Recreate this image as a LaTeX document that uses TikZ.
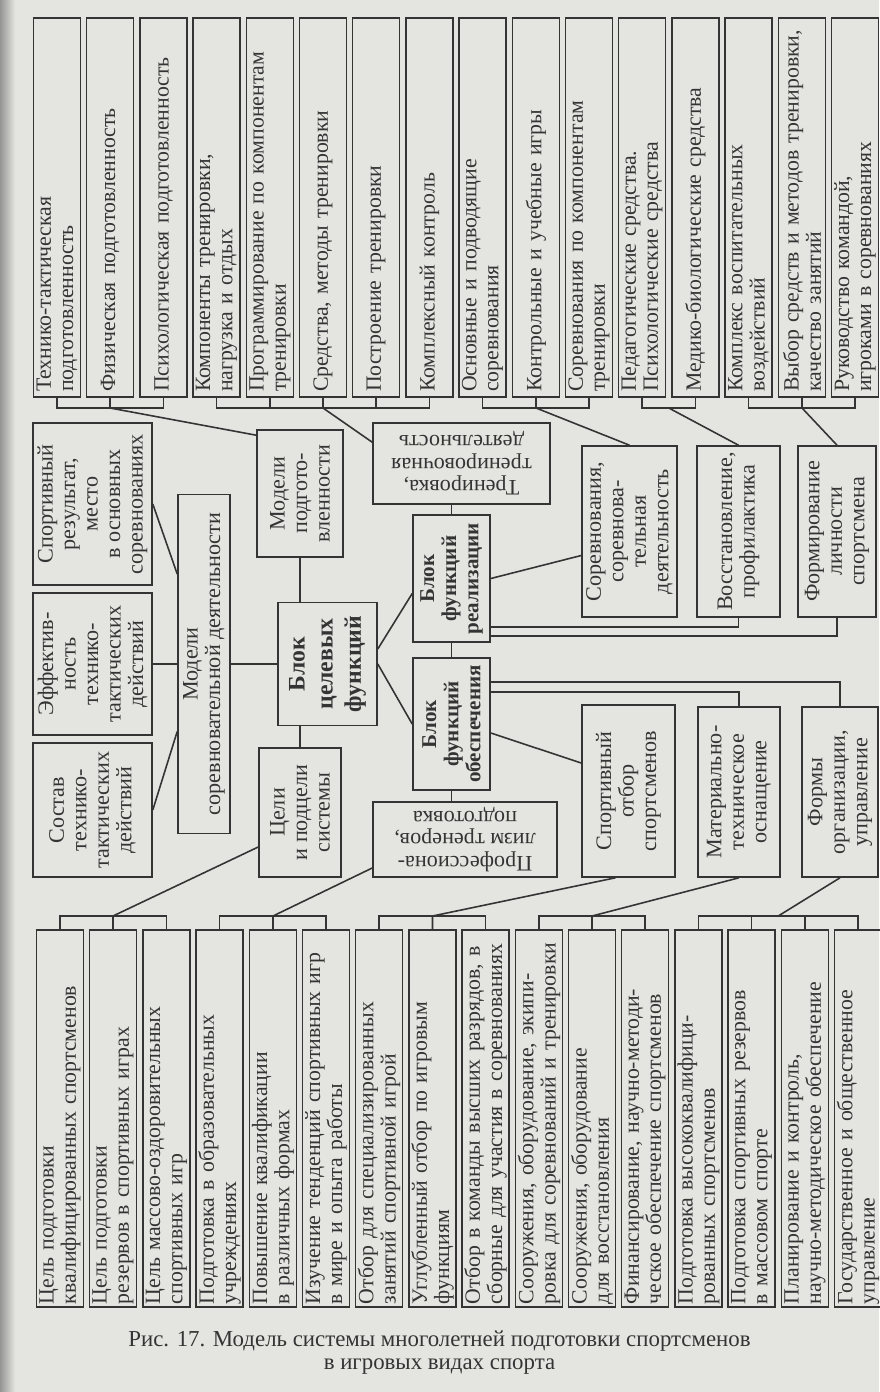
\documentclass[tikz,border=0pt]{standalone}
\usepackage{fontspec}
\setmainfont{Liberation Serif}
\usepackage{tikz}
\usetikzlibrary{calc}

\definecolor{ink}{RGB}{52,52,52}
\definecolor{paper}{RGB}{228,228,225}

\begin{document}
\begin{tikzpicture}[
  x=1cm,
  y=1cm,
  every node/.style={align=center, text=ink},
  listbox/.style={
    draw=ink,
    line width=0.9pt,
    rotate=90,
    minimum width=7.58cm,
    minimum height=0.94cm,
    text width=7.38cm,
    align=left,
    inner xsep=0.1cm,
    inner ysep=0pt,
    font=\fontsize{12.4}{12.6}\selectfont
  },
  lowlist/.style={
    listbox,
    minimum width=7.54cm,
    text width=7.42cm,
    inner xsep=0.06cm
  },
  plainbox/.style={
    draw=ink,
    line width=0.9pt,
    inner sep=2pt,
    font=\fontsize{12.6}{12.8}\selectfont
  },
  midbox/.style={plainbox, rotate=90},
  flipbox/.style={plainbox, rotate=180},
  blockbox/.style={
    midbox,
    font=\fontsize{12}{12.6}\selectfont\bfseries
  },
  wire/.style={draw=ink, line width=0.9pt}
]
  % Page of the scan.
  \useasboundingbox (0,0) rectangle (17.58,-27.84);
  \fill[paper] (0,0) rectangle (17.58,-27.84);
  \shade[left color=ink!45!paper, right color=paper] (0,0) rectangle (0.3,-27.84);

  % Upper row of components.
  \node[listbox] (t1) at (1.14,-4.15) {Технико-тактическая\\подготовленность};
  \node[listbox] (t2) at (2.20,-4.15) {Физическая подготовленность};
  \node[listbox] (t3) at (3.27,-4.15) {Психологическая подготовленность};
  \node[listbox] (t4) at (4.33,-4.15) {Компоненты тренировки,\\нагрузка и отдых};
  \node[listbox] (t5) at (5.40,-4.15) {Программирование по компонентам\\тренировки};
  \node[listbox] (t6) at (6.46,-4.15) {Средства, методы тренировки};
  \node[listbox] (t7) at (7.52,-4.15) {Построение тренировки};
  \node[listbox] (t8) at (8.59,-4.15) {Комплексный контроль};
  \node[listbox] (t9) at (9.65,-4.15) {Основные и подводящие\\соревнования};
  \node[listbox] (t10) at (10.72,-4.15) {Контрольные и учебные игры};
  \node[listbox] (t11) at (11.78,-4.15) {Соревнования по компонентам\\тренировки};
  \node[listbox] (t12) at (12.84,-4.15) {Педагогические средства.\\Психологические средства};
  \node[listbox] (t13) at (13.91,-4.15) {Медико-биологические средства};
  \node[listbox] (t14) at (14.97,-4.15) {Комплекс воспитательных\\воздействий};
  \node[listbox] (t15) at (16.04,-4.15) {Выбор средств и методов тренировки,\\качество занятий};
  \node[listbox] (t16) at (17.10,-4.15) {Руководство командой,\\игроками в соревнованиях};

  % Central blocks.
  \node[midbox, minimum width=3.24cm, minimum height=2.38cm] (sres) at (1.85,-10.08) {Спортивный\\результат,\\место\\в основных\\соревнованиях};
  \node[midbox, minimum width=2.84cm, minimum height=2.38cm] (seff) at (1.85,-13.28) {Эффектив-\\ность\\технико-\\тактических\\действий};
  \node[midbox, minimum width=2.68cm, minimum height=2.38cm] (ssost) at (1.85,-16.20) {Состав\\технико-\\тактических\\действий};
  \node[midbox, minimum width=6.78cm, minimum height=1.04cm] (msor) at (4.08,-13.28) {Модели\\соревновательной деятельности};
  \node[midbox, minimum width=2.54cm, minimum height=1.72cm] (mprep) at (6.00,-9.87) {Модели\\подгото-\\вленности};
  \node[blockbox, minimum width=2.46cm, minimum height=1.98cm, font=\fontsize{13.5}{16}\selectfont\bfseries] (goal) at (6.55,-13.28) {Блок\\целевых\\функций};
  \node[midbox, minimum width=2.58cm, minimum height=1.64cm] (aims) at (6.00,-16.25) {Цели\\и подцели\\системы};
  \node[flipbox, minimum width=3.54cm, minimum height=1.62cm] (train) at (9.23,-9.27) {Тренировка,\\тренировочная\\деятельность};
  \node[blockbox, minimum width=2.54cm, minimum height=1.54cm] (real) at (9.03,-11.57) {Блок\\функций\\реализации};
  \node[blockbox, minimum width=2.64cm, minimum height=1.54cm] (supp) at (9.03,-14.48) {Блок\\функций\\обеспечения};
  \node[flipbox, minimum width=3.68cm, minimum height=1.50cm] (prof) at (9.30,-16.79) {Профессиона-\\лизм тренеров,\\подготовка};
  \node[midbox, minimum width=3.42cm, minimum height=1.90cm] (comp) at (12.59,-10.63) {Соревнования,\\соревнова-\\тельная\\деятельность};
  \node[midbox, minimum width=3.42cm, minimum height=1.66cm] (recov) at (14.77,-10.63) {Восстановление,\\профилактика};
  \node[midbox, minimum width=3.42cm, minimum height=1.56cm] (pers) at (16.74,-10.63) {Формирование\\личности\\спортсмена};
  \node[midbox, minimum width=3.44cm, minimum height=1.86cm] (sel) at (12.57,-15.82) {Спортивный\\отбор\\спортсменов};
  \node[midbox, minimum width=3.40cm, minimum height=1.64cm] (mat) at (14.78,-15.84) {Материально-\\техническое\\оснащение};
  \node[midbox, minimum width=3.40cm, minimum height=1.52cm] (org) at (16.80,-15.84) {Формы\\организации,\\управление};

  % Lower row of components.
  \node[lowlist] (b1) at (1.20,-22.37) {Цель подготовки\\квалифицированных спортсменов};
  \node[lowlist] (b2) at (2.26,-22.37) {Цель подготовки\\резервов в спортивных играх};
  \node[lowlist] (b3) at (3.33,-22.37) {Цель массово-оздоровительных\\спортивных игр};
  \node[lowlist] (b4) at (4.39,-22.37) {Подготовка в образовательных\\учреждениях};
  \node[lowlist] (b5) at (5.46,-22.37) {Повышение квалификации\\в различных формах};
  \node[lowlist] (b6) at (6.52,-22.37) {Изучение тенденций спортивных игр\\в мире и опыта работы};
  \node[lowlist] (b7) at (7.58,-22.37) {Отбор для специализированных\\занятий спортивной игрой};
  \node[lowlist] (b8) at (8.65,-22.37) {Углубленный отбор по игровым\\функциям};
  \node[lowlist] (b9) at (9.71,-22.37) {Отбор в команды высших разрядов, в\\сборные для участия в соревнованиях};
  \node[lowlist] (b10) at (10.78,-22.37) {Сооружения, оборудование, экипи-\\ровка для соревнований и тренировки};
  \node[lowlist] (b11) at (11.84,-22.37) {Сооружения, оборудование\\для восстановления};
  \node[lowlist] (b12) at (12.90,-22.37) {Финансирование, научно-методи-\\ческое обеспечение спортсменов};
  \node[lowlist] (b13) at (13.97,-22.37) {Подготовка высококвалифици-\\рованных спортсменов};
  \node[lowlist] (b14) at (15.03,-22.37) {Подготовка спортивных резервов\\в массовом спорте};
  \node[lowlist] (b15) at (16.10,-22.37) {Планирование и контроль,\\научно-методическое обеспечение};
  \node[lowlist] (b16) at (17.16,-22.37) {Государственное и общественное\\управление};

  % Brackets under the upper row.
  \coordinate (topbus) at (0,-8.16);
  \draw[wire] (t1.west) -- (t1.west |- topbus) -- (t3.west |- topbus) -- (t3.west);
  \draw[wire] (t2.west) -- (t2.west |- topbus) -- ($(mprep.north east)+(0,-0.12)$);
  \draw[wire] (t4.west) -- (t4.west |- topbus) -- (t8.west |- topbus) -- (t8.west);
  \draw[wire] (t5.west) -- (t5.west |- topbus) (t6.west) -- (t6.west |- topbus) (t7.west) -- (t7.west |- topbus);
  \draw[wire] (t6.west |- topbus) -- ($(train.south east)+(0,-0.4)$);
  \draw[wire] (t9.west) -- (t9.west |- topbus) -- (t11.west |- topbus) -- (t11.west);
  \draw[wire] (t10.west) -- (t10.west |- topbus) -- (comp.east);
  \draw[wire] (t12.west) -- (t12.west |- topbus) -- (t13.west |- topbus) -- (t13.west);
  \draw[wire] ($(t12.west |- topbus)!0.5!(t13.west |- topbus)$) -- (recov.east);
  \draw[wire] (t14.west) -- (t14.west |- topbus) -- (t16.west |- topbus) -- (t16.west);
  \draw[wire] (t15.west) -- (t15.west |- topbus) -- (pers.east);

  % Links around the goal block.
  \draw[wire] (sres.south) -- ($(msor.north)+(0,1.8)$);
  \draw[wire] (seff.south) -- (msor.north);
  \draw[wire] (ssost.south) -- ($(msor.north)+(0,-1.35)$);
  \draw[wire] (msor.south) -- (goal.north);
  \draw[wire] (mprep.west) -- (mprep.west |- goal.east);
  \draw[wire] (aims.east) -- (aims.east |- goal.west);
  \draw[wire] ($(goal.south)+(0,0.3)$) -- ($(real.north)+(0,-0.3)$);
  \draw[wire] (goal.south) -- (supp.north);

  % Central column.
  \draw[wire] (real.east) -- (real.east |- train.north);
  \draw[wire] (real.west) -- (real.west |- supp.east);
  \draw[wire] (supp.west) -- (supp.west |- prof.south);

  % Realisation and support branches.
  \draw[wire] (real.south) -- ($(comp.north)+(0,-0.48)$);
  \draw[wire] ($(real.south)+(0,-0.97)$) -| (recov.west);
  \draw[wire] ($(real.south)+(0,-1.15)$) -| (pers.west);
  \draw[wire] ($(supp.south)+(0,0.84)$) -| (org.east);
  \draw[wire] ($(supp.south)+(0,0.64)$) -| (mat.east);
  \draw[wire] ($(supp.south)+(0,-0.18)$) -- ($(sel.north)+(0,0.56)$);

  % Brackets over the lower row.
  \coordinate (botbus) at (0,-18.32);
  \draw[wire] (b1.east) -- (b1.east |- botbus) -- (b3.east |- botbus) -- (b3.east);
  \draw[wire] (b2.east) -- (b2.east |- botbus) -- ($(aims.north)+(0,-0.69)$);
  \draw[wire] (b4.east) -- (b4.east |- botbus) -- (b6.east |- botbus) -- (b6.east);
  \draw[wire] (b5.east) -- (b5.east |- botbus) -- ($(prof.east)+(0,-0.57)$);
  \draw[wire] (b7.east) -- (b7.east |- botbus) -- (b9.east |- botbus) -- (b9.east);
  \draw[wire] (b8.east) -- (b8.east |- botbus) -- ($(sel.west)+(-0.26,0)$);
  \draw[wire] (b10.east) -- (b10.east |- botbus) -- (b12.east |- botbus) -- (b12.east);
  \draw[wire] (b11.east) -- (b11.east |- botbus) -- (mat.west);
  \draw[wire] (b13.east) -- (b13.east |- botbus) -- (b16.east |- botbus) -- (b16.east);
  \draw[wire] (b14.east) -- (b14.east |- botbus) (b15.east) -- (b15.east |- botbus);
  \draw[wire] ($(b14.east |- botbus)!0.5!(b15.east |- botbus)$) -- (org.west);

  % Caption.
  \node[font=\fontsize{13}{13}\selectfont] (caption) at (8.79,-27.05) {Рис. 17. Модель системы многолетней подготовки спортсменов\\в игровых видах спорта};
\end{tikzpicture}
\end{document}
